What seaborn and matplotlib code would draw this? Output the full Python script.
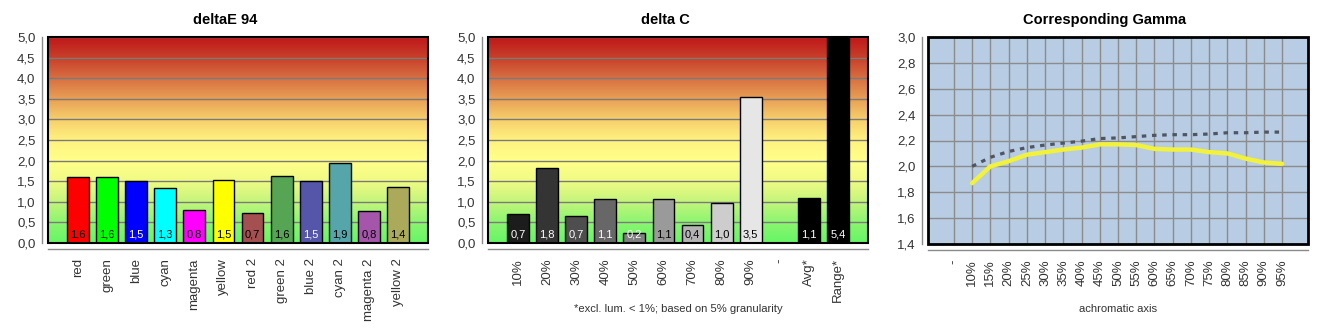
import numpy as np
import pandas as pd
import matplotlib
matplotlib.use("Agg")
import matplotlib.pyplot as plt
from matplotlib.colors import LinearSegmentedColormap
from matplotlib.ticker import FuncFormatter, MultipleLocator
from matplotlib.patches import Rectangle
import seaborn as sns

# ---------------- data ----------------
de_categories = ["red", "green", "blue", "cyan", "magenta", "yellow",
                 "red 2", "green 2", "blue 2", "cyan 2", "magenta 2", "yellow 2"]
de_values = [1.60, 1.60, 1.50, 1.33, 0.80, 1.53, 0.74, 1.63, 1.50, 1.94, 0.78, 1.36]
de_colors = ["#ff0000", "#00ff00", "#0000ff", "#00ffff", "#ff00ff", "#ffff00",
             "#a55050", "#55a555", "#5555aa", "#55a5aa", "#a555aa", "#aaaa5a"]
de_label_colors = ["black", "black", "white", "black", "black", "black",
                   "black", "black", "white", "black", "black", "black"]

dc_categories = ["10%", "20%", "30%", "40%", "50%", "60%", "70%", "80%", "90%",
                 "-", "Avg*", "Range*"]
dc_values = [0.71, 1.83, 0.66, 1.07, 0.24, 1.06, 0.44, 0.96, 3.54, None, 1.10, 5.40]
dc_colors = ["#1c1c1c", "#343434", "#4e4e4e", "#676767", "#808080", "#9a9a9a",
             "#b4b4b4", "#cdcdcd", "#e6e6e6", "#ffffff", "#000000", "#000000"]
dc_label_colors = ["white", "white", "white", "white", "white", "black",
                   "black", "black", "black", "black", "white", "white"]

gamma_categories = ["-", "10%", "15%", "20%", "25%", "30%", "35%", "40%", "45%", "50%",
                    "55%", "60%", "65%", "70%", "75%", "80%", "85%", "90%", "95%"]
gamma_steps = ["10%", "15%", "20%", "25%", "30%", "35%", "40%", "45%", "50%",
               "55%", "60%", "65%", "70%", "75%", "80%", "85%", "90%", "95%"]
gamma_measured = [1.87, 2.00, 2.04, 2.09, 2.11, 2.13, 2.145, 2.17, 2.17,
                  2.165, 2.135, 2.13, 2.13, 2.11, 2.10, 2.06, 2.03, 2.02]
gamma_reference = [2.00, 2.07, 2.115, 2.145, 2.165, 2.18, 2.195, 2.215, 2.22,
                   2.23, 2.24, 2.245, 2.245, 2.25, 2.26, 2.26, 2.265, 2.265]

# ---------------- style ----------------
sns.set_style("white")
plt.rcParams["font.family"] = ["Liberation Sans", "DejaVu Sans"]
TXT = "#333333"
AXGRAY = "#8a8a8a"

W, H = 1330, 330
fig = plt.figure(figsize=(W / 100, H / 100), dpi=100)


def ax_rect(left, top, right, bottom):
    return [left / W, 1 - bottom / H, (right - left) / W, (bottom - top) / H]


def comma(v, _=None):
    return f"{v:.1f}".replace(".", ",")


def style_axes(ax, frame_lw=1.5):
    for s in ["top", "right"]:
        ax.spines[s].set_visible(False)
    for s in ["left", "bottom"]:
        ax.spines[s].set_position(("outward", 4))
        ax.spines[s].set_color(AXGRAY)
        ax.spines[s].set_linewidth(1.0)
    ax.add_patch(Rectangle((0, 0), 1, 1, transform=ax.transAxes, fill=False,
                           edgecolor="black", lw=frame_lw, zorder=10, clip_on=False))
    ax.tick_params(axis="y", length=3, width=1, color=AXGRAY, pad=2,
                   labelsize=9.5, labelcolor=TXT)
    ax.tick_params(axis="x", length=4, width=1, color=AXGRAY, pad=3,
                   labelsize=9.5, labelcolor=TXT, labelrotation=90)
    ax.yaxis.set_major_formatter(FuncFormatter(comma))
    ax.set_xlabel("")
    ax.set_ylabel("")


grad_cmap = LinearSegmentedColormap.from_list(
    "quality",
    [(0.0, "#66f566"), (0.1, "#8cf570"), (0.2, "#c4f57c"), (0.3, "#f0fb84"),
     (0.4, "#ffff8a"), (0.5, "#fff280"), (0.6, "#f7cf6c"), (0.7, "#e8a055"),
     (0.8, "#d87042"), (0.9, "#c8402a"), (1.0, "#c0181a")])


def bar_panel(rect, cats, vals, colors, label_colors):
    ax = fig.add_axes(rect)
    df = pd.DataFrame({"cat": cats, "val": vals})
    df = df[df["val"].notna()]
    pal = dict(zip(cats, colors))
    sns.barplot(data=df, x="cat", y="val", hue="cat", order=cats, hue_order=cats,
                palette=pal, legend=False, width=0.75, edgecolor="black",
                linewidth=1.0, saturation=1, ax=ax, zorder=2)
    xlim = (-1.03, len(cats) - 1 + 1.03)
    ax.imshow(np.linspace(0, 1, 256).reshape(-1, 1), cmap=grad_cmap, origin="lower",
              extent=(xlim[0], xlim[1], 0, 5), aspect="auto", zorder=0)
    ax.set_xlim(*xlim)
    ax.set_ylim(0, 5)
    ax.yaxis.set_major_locator(MultipleLocator(0.5))
    ax.set_axisbelow(True)
    ax.yaxis.grid(True, color="#7a7a7a", lw=1.0, zorder=0.5)
    ax.set_xticks(range(len(cats)))
    ax.set_xticklabels(cats)
    for i, (v, c) in enumerate(zip(vals, label_colors)):
        if v is None:
            continue
        ax.annotate(comma(v), xy=(i, 0), xytext=(0, 2.5), textcoords="offset points",
                    ha="center", va="bottom", fontsize=8, color=c, zorder=5)
    style_axes(ax)
    return ax


ax1 = bar_panel(ax_rect(48, 37, 428, 243), de_categories, de_values, de_colors,
                de_label_colors)
ax2 = bar_panel(ax_rect(488, 37, 868, 243), dc_categories, dc_values, dc_colors,
                dc_label_colors)

# gamma panel
ax3 = fig.add_axes(ax_rect(928, 37, 1308, 244))
ax3.set_facecolor("#b8cce4")
pos = [gamma_categories.index(s) for s in gamma_steps]
gdf = pd.DataFrame({"pos": pos, "measured": gamma_measured, "reference": gamma_reference})
sns.lineplot(data=gdf, x="pos", y="reference", ax=ax3, color="#505562", lw=2.3,
             linestyle=(0, (1.4, 1.8)), zorder=3)
sns.lineplot(data=gdf, x="pos", y="measured", ax=ax3, color="#f2f23a", lw=3.2,
             zorder=4)
ax3.set_xlim(-1.42, len(gamma_categories) - 1 + 1.42)
ax3.set_ylim(1.4, 3.0)
ax3.yaxis.set_major_locator(MultipleLocator(0.2))
ax3.set_xticks(range(len(gamma_categories)))
ax3.set_xticklabels(gamma_categories)
ax3.set_axisbelow(True)
ax3.grid(True, color="#8c8c8c", lw=1.0)
style_axes(ax3, frame_lw=2.0)

# titles and notes
fig.text(225 / W, 1 - 20 / H, "deltaE 94", ha="center", va="center",
         fontsize=10.5, fontweight="bold", color="black")
fig.text(665 / W, 1 - 20 / H, "delta C", ha="center", va="center",
         fontsize=10.5, fontweight="bold", color="black")
fig.text(1105 / W, 1 - 20 / H, "Corresponding Gamma", ha="center", va="center",
         fontsize=10.5, fontweight="bold", color="black")
fig.text(678 / W, 1 - 309 / H, "*excl. lum. < 1%; based on 5% granularity",
         ha="center", va="center", fontsize=8.1, color=TXT)
fig.text(1118 / W, 1 - 309 / H, "achromatic axis", ha="center", va="center",
         fontsize=8.1, color=TXT)

fig.savefig("out.png", dpi=100)
